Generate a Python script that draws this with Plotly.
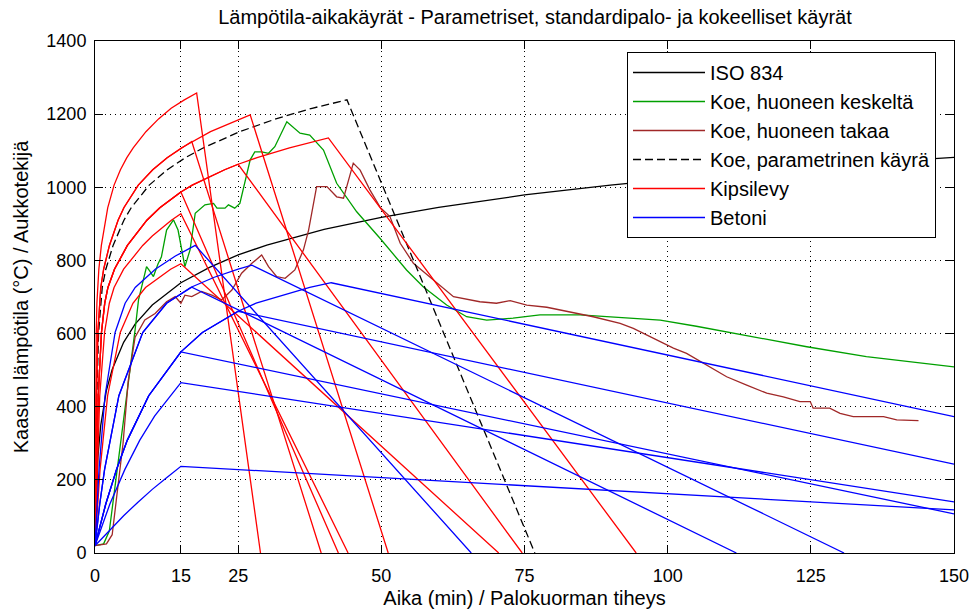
import plotly.graph_objects as go

# ---------------- data ----------------
# ISO 834 standard fire curve
iso_t = [0, 0.5, 1, 2, 3, 5, 7, 10, 15, 20, 25, 30, 40, 50, 60, 75, 90, 105, 120, 135, 150]
iso_T = [20, 261, 349, 445, 502, 576, 626, 678, 739, 781, 815, 842, 885, 918, 945, 979, 1006, 1029, 1049, 1067, 1082]

# Test, centre of the room (green)
green_t = [0, 1.5, 2.5, 3.5, 4.7, 5.8, 7.0, 7.6, 8.4, 9.0, 9.6, 10.2, 11.0, 11.6, 12.5, 13.4, 13.7,
           14.5, 15.0, 15.7, 16.6, 17.5, 19.2, 20.7, 21.3, 22.7, 23.3, 24.4, 25.3, 26.2, 27.1, 27.9,
           29.1, 30.3, 31.4, 33.5, 34.9, 35.8, 37.5, 39.9, 42.2, 45.7, 49.8, 54.4, 57.3, 61.4, 64.9,
           68.4, 73.0, 77.7, 84.7, 90.5, 98.7, 105.0, 113.2, 124.3, 134.7, 150.0]
green_T = [20, 25, 60, 180, 340, 470, 610, 692, 740, 783, 770, 756, 790, 810, 883, 905, 911,
           883, 840, 783, 829, 929, 952, 956, 943, 943, 952, 943, 956, 1020, 1075, 1097,
           1097, 1093, 1111, 1179, 1161, 1148, 1143, 1102, 1011, 933, 860, 774, 728, 678, 646,
           637, 642, 651, 651, 646, 637, 620, 596, 564, 537, 509]

# Test, back of the room (dark red)
brown_t = [0, 2.0, 3.0, 4.0, 4.9, 5.8, 7.0, 8.7, 10.5, 12.5, 14.0, 15.0, 15.7, 16.9, 18.6, 20.4,
           22.1, 23.9, 25.6, 27.4, 29.1, 30.3, 31.7, 33.2, 34.9, 36.4, 37.3, 38.7, 40.5, 42.2,
           43.4, 45.1, 46.3, 48.0, 49.8, 51.5, 53.3, 55.6, 59.1, 62.6, 67.2, 70.1, 72.5, 75.4,
           78.9, 82.9, 87.0, 91.7, 94.0, 98.7, 101.0, 103.3, 106.2, 110.3, 113.8, 117.3, 120.2,
           123.1, 124.9, 125.4, 128.3, 130.1, 132.4, 137.7, 140.0, 141.7, 143.8]
brown_T = [20, 25, 50, 180, 300, 470, 590, 637, 655, 687, 701, 683, 705, 701, 715, 705,
           692, 719, 765, 792, 815, 783, 756, 751, 774, 829, 883, 1002, 1002, 974,
           970, 1066, 1047, 993, 945, 920, 847, 792, 747, 701, 687, 683, 690, 678,
           672, 660, 646, 628, 614, 578, 560, 546, 519, 482, 459, 437, 427,
           414, 414, 396, 396, 382, 373, 373, 364, 364, 362]

# Test, parametric curve (black dashed)
param_t = [0, 0.13, 0.32, 0.63, 1.26, 1.89, 3.16, 5.05, 6.32, 9.47, 12.63, 15.79, 18.95, 25.26,
           31.58, 37.9, 44.0, 76.8]
param_T = [20, 228, 430, 603, 726, 776, 841, 910, 944, 1006, 1048, 1081, 1108, 1152,
           1187, 1216, 1239, 0]

# Kipsilevy (gypsum board) parametric curves (red)
kipsi_1_t = [0, 0.11, 0.22, 0.33, 0.44, 0.67, 1.11, 1.78, 2.22, 3.33, 4.44, 5.56, 6.67, 8.89,
             11.1, 13.3, 15.6, 17.75, 28.9]
kipsi_1_T = [20, 430, 603, 683, 726, 776, 841, 910, 944, 1006, 1048, 1081, 1108, 1152,
             1187, 1216, 1239, 1258, 0]
kipsi_2_t = [0, 0.25, 0.50, 0.76, 1.01, 1.51, 2.52, 4.03, 5.04, 7.56, 10.08, 12.6, 15.13, 16.9, 39.5]
kipsi_2_T = [20, 430, 603, 683, 726, 776, 841, 910, 944, 1006, 1048, 1081, 1108, 1125, 0]
kipsi_3_t = [0, 0.25, 0.50, 0.76, 1.01, 1.51, 2.52, 4.03, 5.04, 7.56, 10.08, 12.6, 15.13, 20.17,
             25.21, 27.1, 51.2]
kipsi_3_T = [20, 430, 603, 683, 726, 776, 841, 910, 944, 1006, 1048, 1081, 1108, 1152,
             1187, 1198, 0]
kipsi_4_t = [0, 0.57, 1.13, 1.70, 2.26, 3.40, 5.66, 9.06, 11.32, 15.0, 16.98, 22.64, 25.0,
             28.3, 33.96, 40.75, 94.5]
kipsi_4_T = [20, 430, 603, 683, 726, 776, 841, 910, 944, 987, 1006, 1048, 1063,
             1081, 1108, 1135, 0]
kipsi_5_t = [0, 0.57, 1.13, 1.70, 2.26, 3.40, 5.66, 9.06, 11.32, 15.0, 16.98, 22.64, 25.0, 74.6]
kipsi_5_T = [20, 430, 603, 683, 726, 776, 841, 910, 944, 987, 1006, 1048, 1063, 0]
kipsi_6_t = [0, 0.57, 1.13, 1.70, 2.26, 3.40, 5.66, 9.06, 11.32, 15.0, 42.5]
kipsi_6_T = [20, 430, 603, 683, 726, 776, 841, 910, 944, 987, 0]
kipsi_7_t = [0, 0.83, 1.67, 2.5, 3.33, 5.0, 8.33, 10.0, 13.33, 15.0, 44.2]
kipsi_7_T = [20, 430, 603, 683, 726, 776, 841, 867, 910, 928, 0]
kipsi_8_t = [0, 0.88, 2.2, 4.41, 6.62, 8.82, 13.2, 15.0, 70.5]
kipsi_8_T = [20, 228, 430, 603, 683, 726, 776, 791, 0]

# Betoni (concrete) parametric curves (blue)
betoni_1_t = [0, 0.70, 1.75, 3.51, 5.26, 7.02, 10.53, 14.04, 17.5, 65.7]
betoni_1_T = [20, 228, 430, 603, 683, 726, 776, 812, 841, 0]
betoni_2_t = [0, 0.83, 1.67, 4.17, 8.33, 12.5, 16.67, 20.83, 25.0, 27.4, 130.8]
betoni_2_T = [20, 134, 228, 430, 603, 683, 726, 754, 776, 787, 0]
betoni_3_t = [0, 0.83, 1.67, 4.17, 8.33, 12.5, 16.9, 112.0]
betoni_3_T = [20, 134, 228, 430, 603, 683, 727, 0]
betoni_4_t = [0, 1.88, 3.75, 5.63, 9.38, 15.0, 18.75, 25.0, 28.13, 37.5, 41.25, 150]
betoni_4_T = [20, 134, 228, 308, 430, 550, 603, 661, 683, 726, 739, 373]
betoni_5_t = [0, 1.88, 3.75, 5.63, 9.38, 15.0, 18.75, 25.0, 150]
betoni_5_T = [20, 134, 228, 308, 430, 550, 603, 661, 243]
betoni_6_t = [0, 1.88, 3.75, 5.63, 9.38, 15.0, 150]
betoni_6_T = [20, 134, 228, 308, 430, 550, 107]
betoni_7_t = [0, 2.6, 5.2, 7.8, 10.4, 15.0, 150]
betoni_7_T = [20, 134, 228, 308, 374, 466, 140]
betoni_8_t = [0, 2.5, 5.0, 7.5, 10.0, 12.5, 15.0, 150]
betoni_8_T = [20, 62, 102, 139, 174, 206, 237, 118]

x_ticks = [0, 15, 25, 50, 75, 100, 125, 150]
y_ticks = [0, 200, 400, 600, 800, 1000, 1200, 1400]

title_text = "Lämpötila-aikakäyrät - Parametriset, standardipalo- ja kokeelliset käyrät"
x_title = "Aika (min) / Palokuorman tiheys"
y_title = "Kaasun lämpötila (°C) / Aukkotekijä"

# ---------------- figure ----------------
fig = go.Figure()
LW = 1.3


def add(t, T, color, name, group, show, dash="solid"):
    fig.add_trace(go.Scatter(x=t, y=T, mode="lines", name=name, legendgroup=group,
                             showlegend=show, hoverinfo="skip",
                             line=dict(color=color, width=LW, dash=dash)))


add(iso_t, iso_T, "#000000", "ISO 834", "iso", True)
add(green_t, green_T, "#00A000", "Koe, huoneen keskeltä", "green", True)
add(brown_t, brown_T, "#A02828", "Koe, huoneen takaa", "brown", True)
add(param_t, param_T, "#000000", "Koe, parametrinen käyrä", "param", True, dash="8px,4px")

kipsi = [(kipsi_1_t, kipsi_1_T), (kipsi_2_t, kipsi_2_T), (kipsi_3_t, kipsi_3_T),
         (kipsi_4_t, kipsi_4_T), (kipsi_5_t, kipsi_5_T), (kipsi_6_t, kipsi_6_T),
         (kipsi_7_t, kipsi_7_T), (kipsi_8_t, kipsi_8_T)]
for i, (t, T) in enumerate(kipsi):
    add(t, T, "#FF0000", "Kipsilevy", "kipsi", i == 0)

betoni = [(betoni_1_t, betoni_1_T), (betoni_2_t, betoni_2_T), (betoni_3_t, betoni_3_T),
          (betoni_4_t, betoni_4_T), (betoni_5_t, betoni_5_T), (betoni_6_t, betoni_6_T),
          (betoni_7_t, betoni_7_T), (betoni_8_t, betoni_8_T)]
for i, (t, T) in enumerate(betoni):
    add(t, T, "#0000FF", "Betoni", "betoni", i == 0)

FONT = "Liberation Sans, Arial, sans-serif"
axis_common = dict(showline=True, linecolor="black", linewidth=1, mirror="ticks",
                   ticks="inside", ticklen=8, tickwidth=1, tickcolor="black",
                   showgrid=True, gridcolor="black", gridwidth=1, griddash="1px,4px",
                   zeroline=False, automargin=False,
                   tickfont=dict(size=18, color="black", family=FONT))

fig.update_layout(
    width=974, height=612,
    margin=dict(l=95, r=20, t=41, b=59),
    paper_bgcolor="white", plot_bgcolor="white",
    font=dict(family=FONT, size=18, color="black"),
    title=dict(text=title_text, x=535 / 974, xref="container", xanchor="center",
               y=1 - 17 / 612, yref="container", yanchor="middle",
               font=dict(size=20, family=FONT, color="black")),
    xaxis=dict(range=[0, 150], tickvals=x_ticks, ticktext=[str(v) for v in x_ticks],
               ticklabelstandoff=6,
               title=dict(text=x_title, standoff=6, font=dict(size=20)), **axis_common),
    yaxis=dict(range=[0, 1400], tickvals=y_ticks, ticktext=[str(v) for v in y_ticks],
               ticklabelstandoff=4,
               title=dict(text=y_title, standoff=12, font=dict(size=20)), **axis_common),
    legend=dict(x=(627 - 95) / 859, y=(553 - 52) / 512, xanchor="left", yanchor="top",
                bgcolor="white", bordercolor="black", borderwidth=1,
                font=dict(size=20, family=FONT, color="black"),
                itemwidth=72, tracegroupgap=0, traceorder="grouped"),
    showlegend=True,
)

fig.write_html("out.html")
